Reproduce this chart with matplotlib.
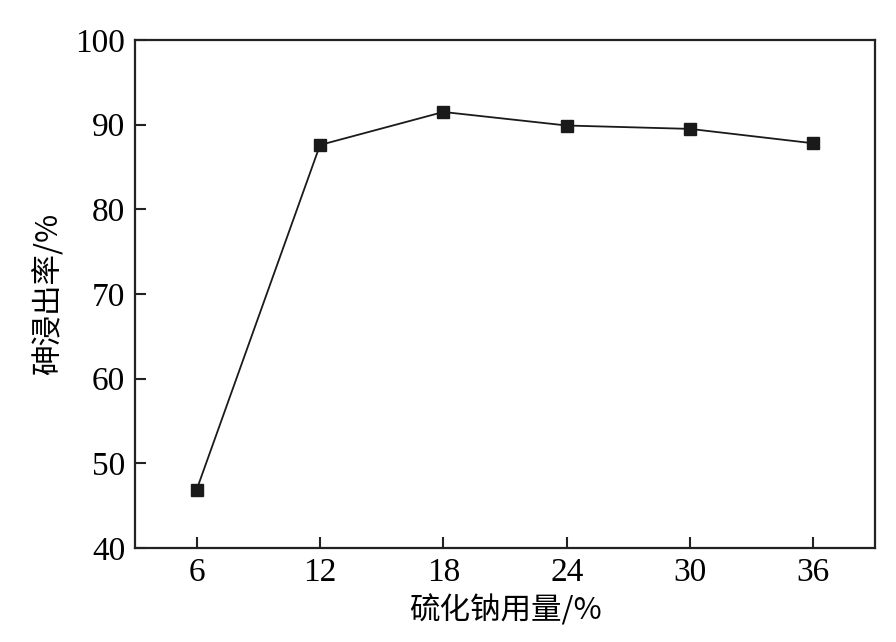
import matplotlib
matplotlib.use("Agg")
import matplotlib.pyplot as plt

dosage = [6, 12, 18, 24, 30, 36]
leach_rate = [46.9, 87.6, 91.5, 89.9, 89.5, 87.8]
x_ticks = [6, 12, 18, 24, 30, 36]
y_ticks = [40, 50, 60, 70, 80, 90, 100]
x_label = "硫化钠用量/%"
y_label = "砷浸出率/%"

fig = plt.figure(figsize=(8.96, 6.42), dpi=100)
ax = fig.add_axes([0.1507, 0.1464, 0.8259, 0.7913])
ax.plot(dosage, leach_rate, color="#1a1a1a", lw=1.3, marker="s", ms=9,
        mfc="#1a1a1a", mec="#1a1a1a")
ax.set_xlim(3, 39)
ax.set_ylim(40, 100)
ax.set_xticks(x_ticks)
ax.set_yticks(y_ticks)
num_font = {"family": ["Liberation Serif", "DejaVu Serif"], "size": 24}
ax.set_xticklabels([str(v) for v in x_ticks], fontdict=num_font)
ax.set_yticklabels([str(v) for v in y_ticks], fontdict=num_font)
ax.tick_params(direction="in", length=8, width=1.5, color="#222222", pad=7)
for s in ax.spines.values():
    s.set_linewidth(1.6)
    s.set_color("#222222")
lab_font = ["Noto Sans CJK SC", "DejaVu Sans"]
ax.set_xlabel(x_label, family=lab_font, fontsize=22, labelpad=5)
ax.set_ylabel(y_label, family=lab_font, fontsize=22, labelpad=8)
fig.savefig("out.png", dpi=100)
